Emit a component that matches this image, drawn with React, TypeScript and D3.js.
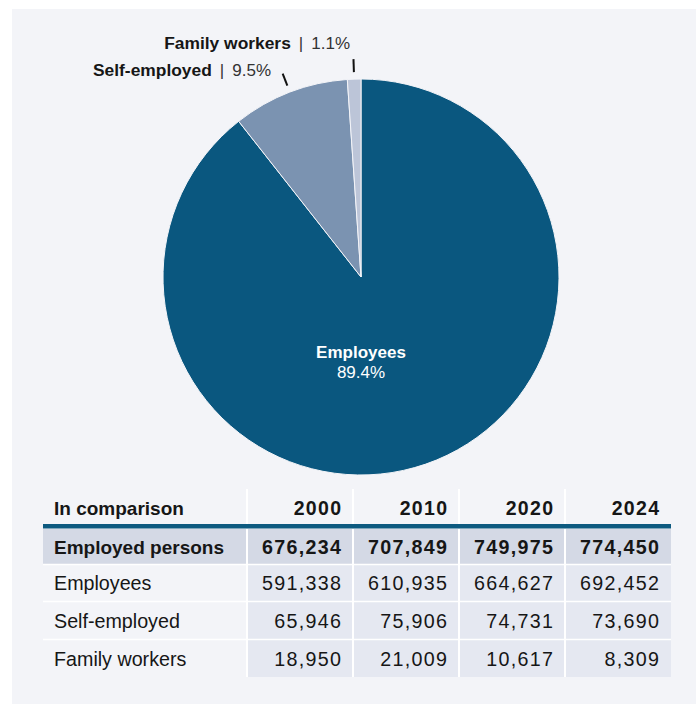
import React from "react";
import * as d3 from "d3";

const categories = ["Employees", "Self-employed", "Family workers"];
const shares = [89.4, 9.5, 1.1];
const shareLabels = ["89.4%", "9.5%", "1.1%"];
const sliceColors = ["#0a577f", "#7b93b1", "#bcc5d8"];

const years = ["2000", "2010", "2020", "2024"];
const rowLabels = ["Employed persons", "Employees", "Self-employed", "Family workers"];
const employedPersons = [676234, 707849, 749975, 774450];
const employees = [591338, 610935, 664627, 692452];
const selfEmployed = [65946, 75906, 74731, 73690];
const familyWorkers = [18950, 21009, 10617, 8309];

const W = 696;
const H = 704;
const cx = 361;
const cy = 277;
const R = 198;

const FONT = "'Liberation Sans', Arial, sans-serif";
const TXT = "#161616";
const LS = 1.3;

export default function App() {
  const pie = d3.pie<number>().sort(null).value((d) => d)(shares);
  const arc = d3.arc<d3.PieArcDatum<number>>().innerRadius(0).outerRadius(R);
  const fmt = d3.format(",");

  const tableRows = [employedPersons, employees, selfEmployed, familyWorkers];
  const colEdges = [43, 247, 353, 459, 565, 671];
  const x = d3.scaleOrdinal<string, number>().domain(["label", ...years]).range(colEdges.slice(0, 5));
  const headerTop = 489;
  const lineY = 527;
  const rowTops = [529, 565, 602, 640];
  const rowH = [35, 36, 37, 37];

  const tickFor = (i: number) => {
    const a = (pie[i].startAngle + pie[i].endAngle) / 2;
    const r1 = 205, r2 = 218;
    return {
      x1: cx + Math.sin(a) * r1, y1: cy - Math.cos(a) * r1,
      x2: cx + Math.sin(a) * r2, y2: cy - Math.cos(a) * r2,
    };
  };
  const labelPos = [null, { x: 271, y: 76 }, { x: 350, y: 49 }];

  return (
    <svg width={W} height={H} style={{ position: "fixed", left: 0, top: 0 }}>
      <rect x={12} y={9} width={W - 12} height={H - 9} fill="#f3f4f8" />
      <g transform={`translate(${cx},${cy})`}>
        {pie.map((p, i) => (
          <path key={i} d={arc(p) || ""} fill={sliceColors[i]} stroke="#f3f4f8" strokeWidth={1} />
        ))}
      </g>
      <text x={cx} y={358} textAnchor="middle" fill="#fff" fontFamily={FONT} fontWeight="bold" fontSize={17}>
        {categories[0]}
      </text>
      <text x={cx} y={378} textAnchor="middle" fill="#fff" fontFamily={FONT} fontSize={17}>
        {shareLabels[0]}
      </text>
      {[1, 2].map((i) => {
        const t = tickFor(i);
        const lp = labelPos[i]!;
        return (
          <g key={i}>
            <line x1={t.x1} y1={t.y1} x2={t.x2} y2={t.y2} stroke="#111" strokeWidth={2} />
            <text x={lp.x} y={lp.y} textAnchor="end" fill={TXT} fontFamily={FONT} fontSize={17}>
              <tspan fontWeight="bold" fontSize={17.4}>{categories[i]}</tspan>
              <tspan fill="#333" dx={8}>{"|"}</tspan>
              <tspan fill="#333" dx={8}>{shareLabels[i]}</tspan>
            </text>
          </g>
        );
      })}

      {years.map((yr, j) => (
        <line key={yr} x1={colEdges[j + 1]} x2={colEdges[j + 1]} y1={headerTop} y2={lineY} stroke="#fff" strokeWidth={2} />
      ))}
      <text x={54} y={515} fill={TXT} fontFamily={FONT} fontWeight="bold" fontSize={19}>
        In comparison
      </text>
      {years.map((yr, j) => (
        <text key={yr} x={colEdges[j + 2] - 12 + LS} y={515} textAnchor="end" fill={TXT} fontFamily={FONT}
          fontWeight="bold" fontSize={19.5} letterSpacing={LS}>
          {yr}
        </text>
      ))}
      {tableRows.map((vals, r) => {
        const top = rowTops[r];
        const h = rowH[r];
        const bold = r === 0;
        const base = top + h / 2 + 7;
        return (
          <g key={r}>
            <rect x={colEdges[0]} y={top} width={colEdges[1] - colEdges[0]} height={h} fill={bold ? "#d4d9e5" : "#f3f4f8"} />
            {vals.map((v, j) => (
              <rect key={j} x={x(years[j])!} y={top} width={colEdges[j + 2] - colEdges[j + 1]} height={h} fill={bold ? "#d4d9e5" : "#e5e8f1"} />
            ))}
            <text x={54} y={base} fill={TXT} fontFamily={FONT} fontWeight={bold ? "bold" : "normal"} fontSize={bold ? 19 : 19.7}>
              {rowLabels[r]}
            </text>
            {vals.map((v, j) => (
              <text key={j} x={colEdges[j + 2] - 12 + LS} y={base} textAnchor="end" fill={TXT} fontFamily={FONT}
                fontWeight={bold ? "bold" : "normal"} fontSize={19.7} letterSpacing={LS}>
                {fmt(v)}
              </text>
            ))}
          </g>
        );
      })}
      {colEdges.slice(1, 5).map((cxE, j) => (
        <line key={j} x1={cxE} x2={cxE} y1={rowTops[0]} y2={677} stroke="#fff" strokeWidth={2} />
      ))}
      {rowTops.slice(1).map((t, r) => (
        <line key={r} x1={43} x2={671} y1={t - 0.5} y2={t - 0.5} stroke="#fff" strokeWidth={1.5} />
      ))}
      <rect x={43} y={lineY - 3} width={628} height={4.5} fill="#0d5a80" />
    </svg>
  );
}
